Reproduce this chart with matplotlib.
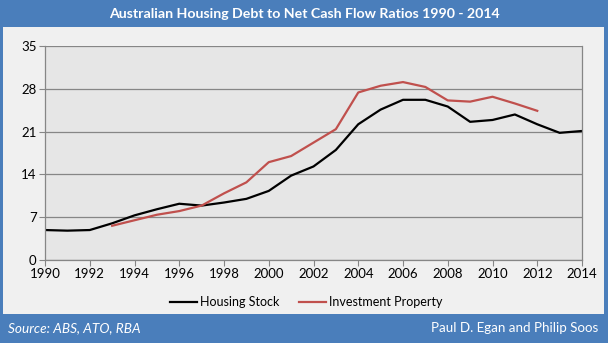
import matplotlib.pyplot as plt
from matplotlib.patches import Rectangle

plt.rcParams['font.family'] = ['Lato', 'DejaVu Sans']

# Data
years = list(range(1990, 2015))
housing_stock = [4.9, 4.8, 4.9, 6.0, 7.3, 8.3, 9.2, 8.9, 9.4, 10.0, 11.3, 13.8,
                 15.3, 18.0, 22.2, 24.6, 26.2, 26.2, 25.1, 22.6, 22.9, 23.8,
                 22.2, 20.8, 21.1]
inv_years = list(range(1993, 2013))
investment_property = [5.6, 6.5, 7.4, 8.0, 8.9, 10.9, 12.7, 16.0, 17.0, 19.2,
                       21.4, 27.4, 28.5, 29.1, 28.3, 26.1, 25.9, 26.7, 25.6, 24.4]
y_ticks = [0, 7, 14, 21, 28, 35]
x_ticks = list(range(1990, 2015, 2))

W, H = 608, 343
blue = '#4A7EBB'
fig = plt.figure(figsize=(W / 100, H / 100), dpi=100, facecolor=blue)

# light gray panel inside the blue frame (kept under the axes)
fig.patches.append(Rectangle((3 / W, 1 - 314 / H), 601 / W, 287 / H,
                             transform=fig.transFigure, facecolor='#F0F0F0',
                             edgecolor='none', zorder=-10))

ax = fig.add_axes([45 / W, 1 - 260 / H, 537 / W, 214 / H])
ax.set_facecolor('#E6E6E6')

ax.plot(years, housing_stock, color='black', lw=1.6, label='Housing Stock')
ax.plot(inv_years, investment_property, color='#C0504D', lw=1.6,
        label='Investment Property')

ax.set_xlim(1990, 2014)
ax.set_ylim(0, 35)
ax.set_xticks(x_ticks)
ax.set_yticks(y_ticks)
ax.grid(axis='y', color='#868686', lw=0.9)
ax.set_axisbelow(True)
for side in ['left', 'bottom', 'right']:
    ax.spines[side].set_color('#868686')
    ax.spines[side].set_linewidth(0.9)
ax.spines['top'].set_visible(False)
ax.tick_params(direction='out', length=4, color='#868686', labelsize=9.5,
               labelcolor='black', pad=2)

# title and footer in the blue bars
fig.text(0.5, 1 - 14 / H, 'Australian Housing Debt to Net Cash Flow Ratios 1990 - 2014',
         ha='center', va='center', color='white', fontsize=10.2, fontweight='bold')
fig.text(8 / W, 1 - 328 / H, 'Source: ABS, ATO, RBA', ha='left', va='center',
         color='white', fontsize=9.8, style='italic')
fig.text(598 / W, 1 - 328 / H, 'Paul D. Egan and Philip Soos', ha='right',
         va='center', color='white', fontsize=9.6)

fig.legend(loc='center', bbox_to_anchor=(306 / W, 1 - 302 / H), ncol=2,
           frameon=False, fontsize=9, handlelength=2.2, handletextpad=0.2,
           columnspacing=1.6)

fig.savefig('out.png', dpi=100, facecolor=fig.get_facecolor())
